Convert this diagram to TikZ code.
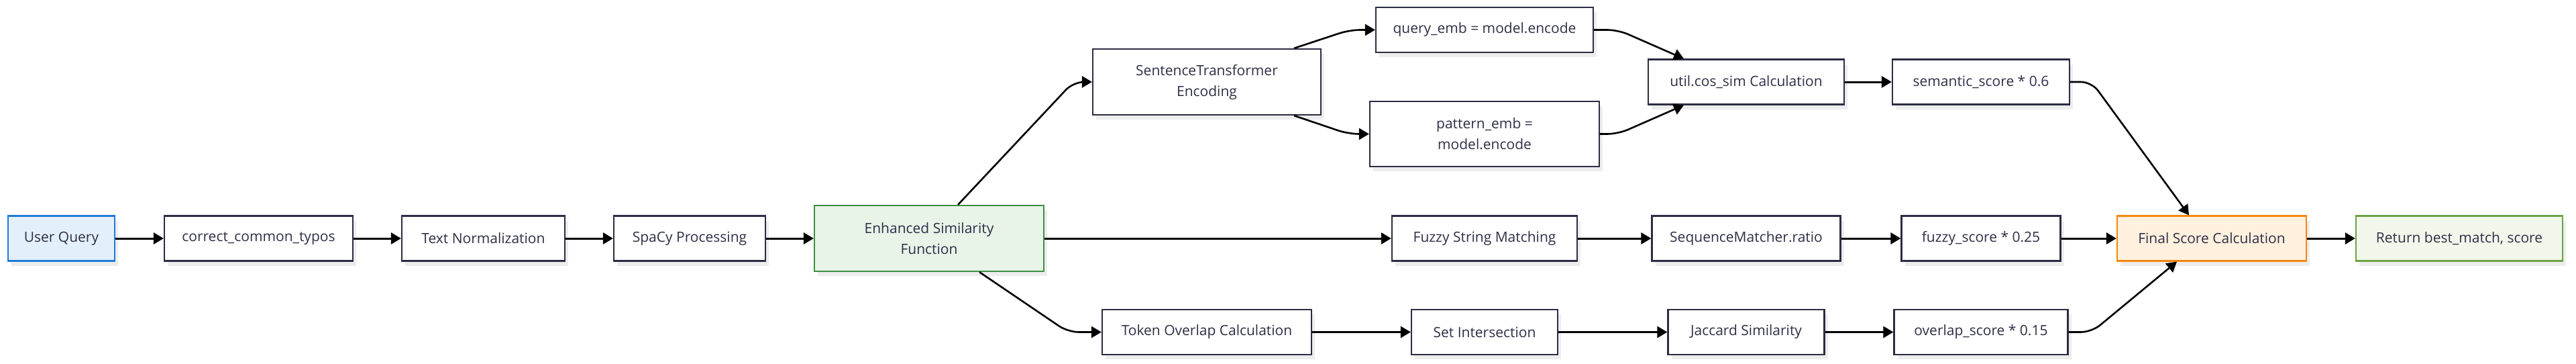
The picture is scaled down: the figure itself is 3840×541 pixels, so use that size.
\documentclass[tikz,border=0pt]{standalone}
\usepackage{fontspec}
\setmainfont{Open Sans}
\usetikzlibrary{arrows.meta,shadows}
\definecolor{boxline}{HTML}{2C2C44}
\definecolor{txtcol}{HTML}{2E2E46}
\definecolor{shadowgray}{HTML}{EDEDED}
\definecolor{uqfill}{HTML}{E3F0FC}
\definecolor{uqline}{HTML}{1F7AD6}
\definecolor{esfill}{HTML}{E8F4E8}
\definecolor{esline}{HTML}{3C9040}
\definecolor{finfill}{HTML}{FFF1DE}
\definecolor{finline}{HTML}{F5860F}
\definecolor{retfill}{HTML}{F1F7EA}
\definecolor{retline}{HTML}{6BA343}
\tikzset{
  box/.style={draw=boxline, line width=2.2pt, fill=white, inner sep=0pt,
    minimum height=67pt, align=center, text=txtcol,
    font=\fontsize{21}{31}\selectfont,
    drop shadow={shadow xshift=5pt, shadow yshift=-7pt, fill=shadowgray, opacity=1}},
  tall/.style={minimum height=98pt},
  arr/.style={-{Triangle[length=15pt,width=17pt]}, line width=3pt, black},
  carr/.style={arr, line width=2.6pt, rounded corners=16pt},
}
\begin{document}
\begin{tikzpicture}[x=1pt,y=-1pt]
\useasboundingbox (0,0) rectangle (3840,541);
\fill[white] (0,0) rectangle (3840,541);
% main row
\node[box, minimum width=159pt, fill=uqfill, draw=uqline] (uq) at (91.5,355) {User Query};
\node[box, minimum width=281pt] (cct) at (385.5,355) {correct\_common\_typos};
\node[box, minimum width=243pt] (tn) at (720.5,355) {Text Normalization};
\node[box, minimum width=226pt] (sp) at (1028,355) {SpaCy Processing};
\node[box, tall, minimum width=342pt, fill=esfill, draw=esline] (es) at (1385,355) {Enhanced Similarity\\Function};
% semantic branch
\node[box, tall, minimum width=340pt] (st) at (1799,122) {SentenceTransformer\\Encoding};
\node[box, minimum width=324pt] (qe) at (2213,44.5) {query\_emb = model.encode};
\node[box, tall, minimum width=342pt, minimum height=97pt] (pe) at (2213,199.5) {pattern\_emb =\\model.encode};
\node[box, minimum width=292pt] (cs) at (2603,122) {util.cos\_sim Calculation};
\node[box, minimum width=264pt] (ss) at (2953,122) {semantic\_score * 0.6};
% fuzzy branch
\node[box, minimum width=276pt] (fz) at (2213,355) {Fuzzy String Matching};
\node[box, minimum width=281pt] (sm) at (2603,355) {SequenceMatcher.ratio};
\node[box, minimum width=237pt] (fs) at (2953,355) {fuzzy\_score * 0.25};
\node[box, minimum width=282pt, fill=finfill, draw=finline] (fin) at (3297,355) {Final Score Calculation};
\node[box, minimum width=308pt, fill=retfill, draw=retline] (ret) at (3666,355) {Return best\_match, score};
% overlap branch
\node[box, minimum width=312pt] (tok) at (1799,494.5) {Token Overlap Calculation};
\node[box, minimum width=218pt] (si) at (2213,494.5) {Set Intersection};
\node[box, minimum width=233pt] (jac) at (2603,494.5) {Jaccard Similarity};
\node[box, minimum width=259pt] (ov) at (2953,494.5) {overlap\_score * 0.15};
% straight edges
\draw[arr] (uq) -- (cct);
\draw[arr] (cct) -- (tn);
\draw[arr] (tn) -- (sp);
\draw[arr] (sp) -- (es);
\draw[arr] (es) -- (fz);
\draw[arr] (fz) -- (sm);
\draw[arr] (sm) -- (fs);
\draw[arr] (fs) -- (fin);
\draw[arr] (fin) -- (ret);
\draw[arr] (cs) -- (ss);
\draw[arr] (tok) -- (si);
\draw[arr] (si) -- (jac);
\draw[arr] (jac) -- (ov);
% curved edges
\coordinate (b1) at (1600,122);
\coordinate (b2) at (2012,44.5);
\coordinate (b3) at (2010,199.5);
\coordinate (b4) at (2412,44.5);
\coordinate (b5) at (2412,199.5);
\coordinate (b6) at (3118,122);
\coordinate (b7) at (3118,494.5);
\coordinate (b8) at (1592,494.5);
\draw[carr] ([xshift=43pt]es.north) -- (b1) -- (st.west);
\draw[carr] ([xshift=130pt]st.north) -- (b2) -- (qe.west);
\draw[carr] ([xshift=130pt]st.south) -- (b3) -- (pe.west);
\draw[carr] (qe.east) -- (b4) -- ([xshift=-93pt]cs.north);
\draw[carr] (pe.east) -- (b5) -- ([xshift=-93pt]cs.south);
\draw[carr] (ss.east) -- (b6) -- ([xshift=-34pt]fin.north);
\draw[carr] (ov.east) -- (b7) -- ([xshift=-52pt]fin.south);
\draw[carr] ([xshift=75pt]es.south) -- (b8) -- (tok.west);
\end{tikzpicture}
\end{document}
